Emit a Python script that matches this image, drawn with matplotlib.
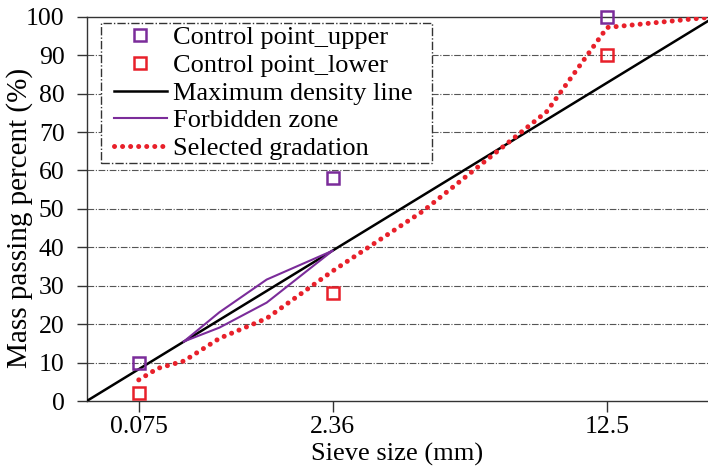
import numpy as np
import matplotlib
matplotlib.use("Agg")
import matplotlib.pyplot as plt
from matplotlib.lines import Line2D
from matplotlib.legend_handler import HandlerLine2D

plt.rcParams['font.family'] = ['Liberation Serif', 'DejaVu Serif']

# data (sieve size in mm, percent passing)
sieve_sizes = [0.075, 0.15, 0.3, 0.6, 1.18, 2.36, 4.75, 9.5, 12.5, 19]
selected = [5.5, 8.5, 10.4, 16.3, 21.5, 33.8, 49.5, 75.3, 97.2, 100]

control_sieves = [0.075, 2.36, 12.5]
control_upper = [10, 58, 100]
control_lower = [2, 28, 90]

fz_sieves = [0.3, 0.6, 1.18, 2.36]
fz_upper = [15.5, 23.1, 31.6, 39.1]
fz_lower = [15.5, 19.1, 25.6, 39.1]

mdl_sieves = [0, 19]
mdl_values = [0, 100]

tick_sieves = [0.075, 2.36, 12.5]
tick_labels = ['0.075', '2.36', '12.5']

purple = '#7B2C9A'
red = '#E8202A'
dotted = (0, (0.01, 1.6))

fig = plt.figure(figsize=(7.08, 4.67), dpi=100)
ax = fig.add_axes([0.1225, 0.1413, 0.8775, 0.8229])

# 0.45 power chart
ax.set_xscale('function', functions=(lambda x: np.power(np.clip(x, 0, None), 0.45),
                                     lambda x: np.power(np.clip(x, 0, None), 1 / 0.45)))

for y in range(10, 100, 10):
    ax.axhline(y, color='#555555', lw=0.8, linestyle=(0, (6, 1.5, 1, 1.5)), zorder=1)

ax.plot(mdl_sieves, mdl_values, color='black', lw=1.8, zorder=3)
ax.plot(fz_sieves, fz_upper, color=purple, lw=1.5, zorder=3)
ax.plot(fz_sieves, fz_lower, color=purple, lw=1.5, zorder=3)
ax.plot(sieve_sizes, selected, color=red, lw=3.6, linestyle=dotted,
        dash_capstyle='round', zorder=4)
ax.plot(control_sieves, control_upper, 's', mfc='none', mec=purple, ms=8.5, mew=1.8,
        zorder=5, clip_on=False)
ax.plot(control_sieves, control_lower, 's', mfc='none', mec=red, ms=8.5, mew=1.8,
        zorder=5, clip_on=False)

ax.set_xlim(0, 18.53)
ax.set_ylim(0, 100)
ax.set_xticks(tick_sieves)
ax.set_xticklabels(tick_labels)
ax.xaxis.set_minor_locator(matplotlib.ticker.NullLocator())
ax.set_yticks(range(0, 101, 10))
ax.tick_params(axis='both', direction='out', labelsize=18.5, width=1, color='#333333')
ax.tick_params(axis='x', length=8, pad=3)
ax.tick_params(axis='y', length=7, pad=9)
ax.spines['right'].set_visible(False)
for s in ['left', 'bottom', 'top']:
    ax.spines[s].set_linewidth(1.0)
    ax.spines[s].set_color('#333333')

ax.set_xlabel('Sieve size (mm)', fontsize=19, labelpad=3)
ax.set_ylabel('Mass passing percent (%)', fontsize=21)
ax.yaxis.set_label_coords(-0.087, 0.476)

handles = [
    Line2D([], [], marker='s', ls='none', mfc='none', mec=purple, ms=8.5, mew=1.8),
    Line2D([], [], marker='s', ls='none', mfc='none', mec=red, ms=8.5, mew=1.8),
    Line2D([], [], color='black', lw=1.8),
    Line2D([], [], color=purple, lw=1.5),
    Line2D([], [], color=red, lw=3.6, linestyle=dotted, dash_capstyle='round'),
]
labels = ['Control point_upper', 'Control point_lower', 'Maximum density line',
          'Forbidden zone', 'Selected gradation']
leg = ax.legend(handles, labels, loc='upper left',
                bbox_to_anchor=(0.0225, 0.6, 0.533, 0.383), mode='expand',
                borderaxespad=0, fontsize=19, frameon=True, fancybox=False,
                handlelength=2.4, handletextpad=0.25, labelspacing=0.16,
                borderpad=0.1, numpoints=1,
                handler_map={Line2D: HandlerLine2D(xpad=0.4)})
frame = leg.get_frame()
frame.set_edgecolor('#333333')
frame.set_linewidth(1.0)
frame.set_linestyle((0, (6, 1.5, 1, 1.5)))
frame.set_alpha(None)
frame.set_facecolor('white')

fig.savefig('out.png', dpi=100)
